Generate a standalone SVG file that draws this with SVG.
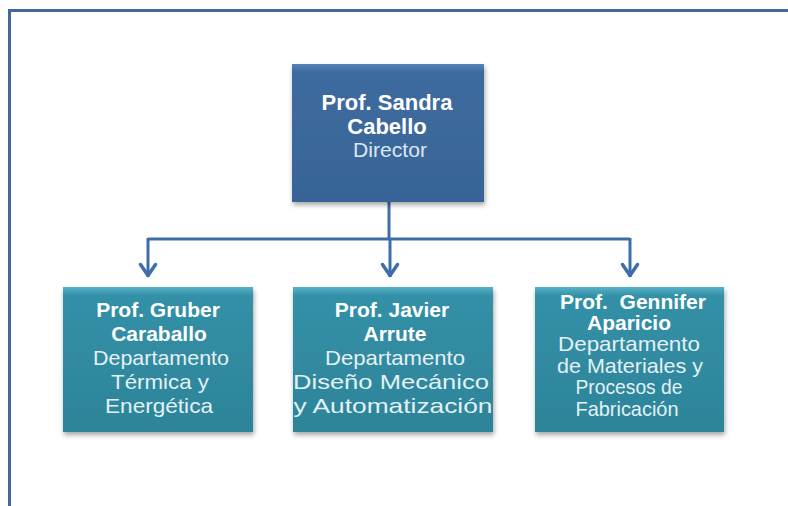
<svg xmlns="http://www.w3.org/2000/svg" width="788" height="506" viewBox="0 0 788 506">
<style>
.b{font-family:"Liberation Sans",Arial,sans-serif;font-weight:bold;font-size:21px;fill:#ffffff;text-anchor:middle}
.bd{font-family:"Liberation Sans",Arial,sans-serif;font-weight:bold;font-size:22px;fill:#ffffff;text-anchor:middle}
.r{font-family:"Liberation Sans",Arial,sans-serif;font-size:21px;fill:#e3f1f5;text-anchor:middle}
.rd{font-family:"Liberation Sans",Arial,sans-serif;font-size:21px;fill:#dbe6f2;text-anchor:middle}
.conn{fill:none;stroke:#3e6eaa;stroke-width:3}
</style>
<defs>
<linearGradient id="gDir" x1="0" y1="0" x2="0" y2="1">
<stop offset="0" stop-color="#5582b8"/>
<stop offset="0.06" stop-color="#3e6b9f"/>
<stop offset="1" stop-color="#386497"/>
</linearGradient>
<linearGradient id="gDep" x1="0" y1="0" x2="0" y2="1">
<stop offset="0" stop-color="#58b2c8"/>
<stop offset="0.06" stop-color="#3390a7"/>
<stop offset="1" stop-color="#2d8499"/>
</linearGradient>
<filter id="sh" x="-10%" y="-10%" width="125%" height="125%">
<feDropShadow dx="1" dy="3" stdDeviation="2.5" flood-color="#000" flood-opacity="0.35"/>
</filter>
<marker id="ah" viewBox="-16 -10 18 20" refX="0" refY="0" markerWidth="18" markerHeight="20" markerUnits="userSpaceOnUse" orient="auto">
<path d="M-12.5,-7.5 L-1.5,0 L-12.5,7.5" fill="none" stroke="#3e6eaa" stroke-width="3.5" stroke-linecap="round" stroke-linejoin="round"/>
</marker>
</defs>
<rect width="788" height="506" fill="#ffffff"/>
<g id="frame">
<path d="M9.5,506 L9.5,10.5 L788,10.5" fill="none" stroke="#43699a" stroke-width="3"/>
</g>
<g id="connectors">
<path class="conn" d="M389,202 L389,239"/>
<path class="conn" d="M148,239 L630,239"/>
<path class="conn" d="M148,238 L148,277" marker-end="url(#ah)"/>
<path class="conn" d="M390,238 L390,277" marker-end="url(#ah)"/>
<path class="conn" d="M630,238 L630,277" marker-end="url(#ah)"/>
</g>
<g id="director">
<rect x="292" y="64" width="192" height="138" fill="url(#gDir)" filter="url(#sh)"/>
<text class="bd" x="387" y="110">Prof. Sandra</text>
<text class="bd" x="387" y="134">Cabello</text>
<text class="rd" x="390" y="157" textLength="74" lengthAdjust="spacingAndGlyphs">Director</text>
</g>
<g id="dept1">
<rect x="63" y="287" width="190" height="145" fill="url(#gDep)" filter="url(#sh)"/>
<text class="b" x="158" y="317">Prof. Gruber</text>
<text class="b" x="159" y="341">Caraballo</text>
<text class="r" x="161" y="365" textLength="136" lengthAdjust="spacingAndGlyphs">Departamento</text>
<text class="r" x="160" y="389" textLength="98" lengthAdjust="spacingAndGlyphs">Térmica y</text>
<text class="r" x="159" y="413" textLength="108" lengthAdjust="spacingAndGlyphs">Energética</text>
</g>
<g id="dept2">
<rect x="293" y="287" width="200" height="145" fill="url(#gDep)" filter="url(#sh)"/>
<text class="b" x="392" y="317">Prof. Javier</text>
<text class="b" x="395" y="341">Arrute</text>
<text class="r" x="395" y="365" textLength="140" lengthAdjust="spacingAndGlyphs">Departamento</text>
<text class="r" x="391" y="389" textLength="196" lengthAdjust="spacingAndGlyphs">Diseño Mecánico</text>
<text class="r" x="393" y="413" textLength="199" lengthAdjust="spacingAndGlyphs">y Automatización</text>
</g>
<g id="dept3">
<rect x="535" y="287" width="189" height="145" fill="url(#gDep)" filter="url(#sh)"/>
<text class="b" x="633" y="309" xml:space="preserve">Prof.  Gennifer</text>
<text class="b" x="629" y="330">Aparicio</text>
<text class="r" x="629" y="351" textLength="142" lengthAdjust="spacingAndGlyphs">Departamento</text>
<text class="r" x="630" y="373" textLength="146" lengthAdjust="spacingAndGlyphs">de Materiales y</text>
<text class="r" x="629" y="394" textLength="107" lengthAdjust="spacingAndGlyphs">Procesos de</text>
<text class="r" x="627" y="416" textLength="103" lengthAdjust="spacingAndGlyphs">Fabricación</text>
</g>
</svg>
